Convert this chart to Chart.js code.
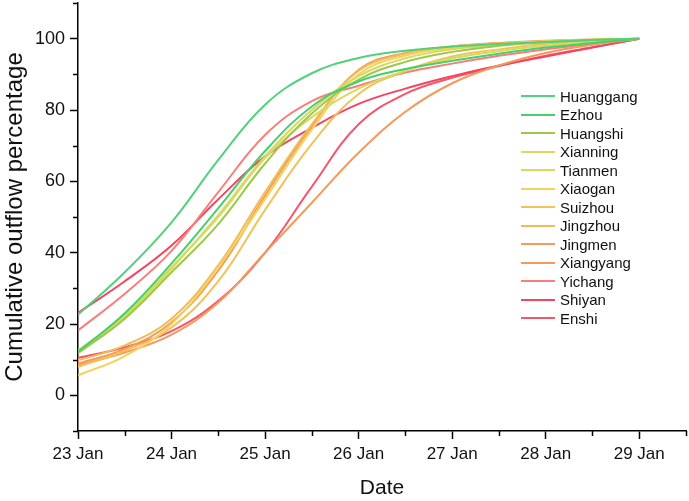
<!DOCTYPE html>
<html>
<head>
<meta charset="utf-8">
<script src="https://cdn.jsdelivr.net/npm/chart.js@4"></script>
<style>
  body { margin: 0; background: #fff; }
  #wrap { position: relative; width: 689px; height: 501px; }
  #legend { position: absolute; left: 521px; top: 87px; font-family: Arial, "Liberation Sans", sans-serif; font-size: 15px; color: #111; }
  .row { display: flex; align-items: center; height: 18.5px; }
  .swatch { width: 34px; height: 2px; margin-right: 5px; }
</style>
</head>
<body>
<div id="wrap">
  <canvas id="chart" width="689" height="501"></canvas>
  <div id="legend"></div>
</div>
<script>
// days after 23 Jan (x positions of the readings)
const days = [0, 0.5, 1, 1.5, 2, 2.5, 3, 3.5, 4, 4.5, 5, 5.5, 6];
const dateLabels = ['23 Jan', '24 Jan', '25 Jan', '26 Jan', '27 Jan', '28 Jan', '29 Jan'];
const yTickValues = [0, 20, 40, 60, 80, 100];

const cities = ['Huanggang', 'Ezhou', 'Huangshi', 'Xianning', 'Tianmen', 'Xiaogan', 'Suizhou',
                'Jingzhou', 'Jingmen', 'Xiangyang', 'Yichang', 'Shiyan', 'Enshi'];
const cityColors = ['#52d17c', '#45cf6e', '#9cc94a', '#d6db5a', '#d9d85c', '#f4d25a', '#f2c259',
                    '#f0bc55', '#f69a5c', '#f6985a', '#f77e7a', '#f5445f', '#f4566a'];

// cumulative outflow (%), one value per half day
const huanggang = [22.6, 34.5, 48.5, 66, 81.5, 90.3, 94.6, 96.6, 97.8, 98.5, 99.1, 99.6, 100];
const ezhou     = [12.2, 23, 37, 52.5, 68.5, 81, 88, 91.5, 93.8, 95.8, 97.5, 98.8, 100];
const huangshi  = [11.8, 21.5, 34.5, 48, 65, 79, 88.5, 93.5, 96.3, 98, 99, 99.6, 100];
const xianning  = [12.6, 22.5, 36, 50, 66.5, 78, 86, 91, 94.5, 96.5, 98, 99.2, 100];
const tianmen   = [12.0, 22, 35.5, 50.5, 67, 80, 89.5, 94.5, 97, 98.3, 99.1, 99.6, 100];
const xiaogan   = [5.6, 11, 20, 36, 55, 74.5, 90, 95.3, 97.3, 98.4, 99.2, 99.7, 100];
const suizhou   = [8.0, 12.5, 19, 32, 52, 70.5, 84.5, 91, 95, 97, 98.5, 99.4, 100];
const jingzhou  = [9.8, 14, 21.5, 36.5, 57, 76, 91, 95.8, 97.8, 98.7, 99.3, 99.7, 100];
const jingmen   = [8.9, 13, 20.5, 35, 56, 75.5, 91.3, 96, 97.8, 98.8, 99.4, 99.8, 100];
const xiangyang = [8.5, 12, 17, 26, 40, 54, 68, 79.5, 87.5, 92.5, 96, 98.3, 100];
const yichang   = [18.2, 28.5, 40.5, 57, 73, 82.5, 86.8, 90.5, 93, 95.2, 97, 98.6, 100];
const shiyan    = [23.1, 32, 42, 55, 67, 75, 81.7, 86, 89.5, 92.5, 95, 97.5, 100];
const enshi     = [10.5, 13.5, 18, 26.5, 40, 58.5, 76, 84.5, 89, 92.3, 95.2, 97.6, 100];

const seriesValues = [huanggang, ezhou, huangshi, xianning, tianmen, xiaogan, suizhou,
                      jingzhou, jingmen, xiangyang, yichang, shiyan, enshi];

// small ticks between the labelled ones
const minorTicks = {
    id: 'minorTicks',
    afterDraw(chart) {
        const { ctx, scales: { x, y } } = chart;
        ctx.save();
        ctx.strokeStyle = '#000';
        ctx.lineWidth = 1.5;
        ctx.beginPath();
        [0.5, 1.5, 2.5, 3.5, 4.5, 5.5, 6.5].forEach(v => {
            const px = Math.round(x.getPixelForValue(v)) + 0.5;
            ctx.moveTo(px, x.top);
            ctx.lineTo(px, x.top + 5);
        });
        [-10, 10, 30, 50, 70, 90, 110].forEach(v => {
            const py = Math.round(y.getPixelForValue(v)) + 0.5;
            ctx.moveTo(y.right, py);
            ctx.lineTo(y.right - 5, py);
        });
        ctx.stroke();
        ctx.restore();
    }
};

const datasets = cities.map((name, i) => ({
    label: name,
    data: days.map((d, j) => ({ x: d, y: seriesValues[i][j] })),
    borderColor: cityColors[i],
    backgroundColor: cityColors[i],
    borderWidth: 2,
    pointRadius: 0,
    tension: 0.4,
    fill: false
}));

const font = 'Arial, "Liberation Sans", sans-serif';

new Chart(document.getElementById('chart'), {
    type: 'line',
    data: { datasets },
    options: {
        responsive: false,
        animation: false,
        layout: { padding: { top: 3, right: 3, left: 0, bottom: 0 } },
        plugins: {
            legend: { display: false },
            tooltip: { enabled: false }
        },
        scales: {
            x: {
                type: 'linear',
                min: 0,
                max: 6.5,
                afterFit: s => { s.height = 70; s.paddingLeft = 0; s.paddingRight = 0; },
                afterBuildTicks: s => { s.ticks = dateLabels.map((_, i) => ({ value: i })); },
                ticks: {
                    callback: v => dateLabels[v],
                    color: '#111',
                    font: { family: font, size: 17 },
                    padding: 5,
                    maxRotation: 0,
                    autoSkip: false
                },
                grid: { drawOnChartArea: false, drawTicks: true, tickLength: 8, tickColor: '#000', tickWidth: 1.5 },
                border: { display: true, color: '#000', width: 1.5 },
                title: { display: true, text: 'Date', color: '#111', font: { family: font, size: 21 }, padding: { top: 0, bottom: 0 } }
            },
            y: {
                min: -10,
                max: 110,
                afterFit: s => { s.width = 78; s.paddingTop = 0; s.paddingBottom = 0; },
                afterBuildTicks: s => { s.ticks = yTickValues.map(v => ({ value: v })); },
                ticks: {
                    color: '#111',
                    font: { family: font, size: 18 },
                    padding: 5
                },
                grid: { drawOnChartArea: false, drawTicks: true, tickLength: 8, tickColor: '#000', tickWidth: 1.5 },
                border: { display: true, color: '#000', width: 1.5 },
                title: { display: true, text: 'Cumulative outflow percentage', color: '#111', font: { family: font, size: 24 }, padding: { top: 1, bottom: 0 } }
            }
        }
    },
    plugins: [minorTicks]
});

// legend, same order as the series
const legend = document.getElementById('legend');
cities.forEach((name, i) => {
    const row = document.createElement('div');
    row.className = 'row';
    const sw = document.createElement('span');
    sw.className = 'swatch';
    sw.style.background = cityColors[i];
    const txt = document.createElement('span');
    txt.textContent = name;
    row.appendChild(sw);
    row.appendChild(txt);
    legend.appendChild(row);
});
</script>
</body>
</html>
